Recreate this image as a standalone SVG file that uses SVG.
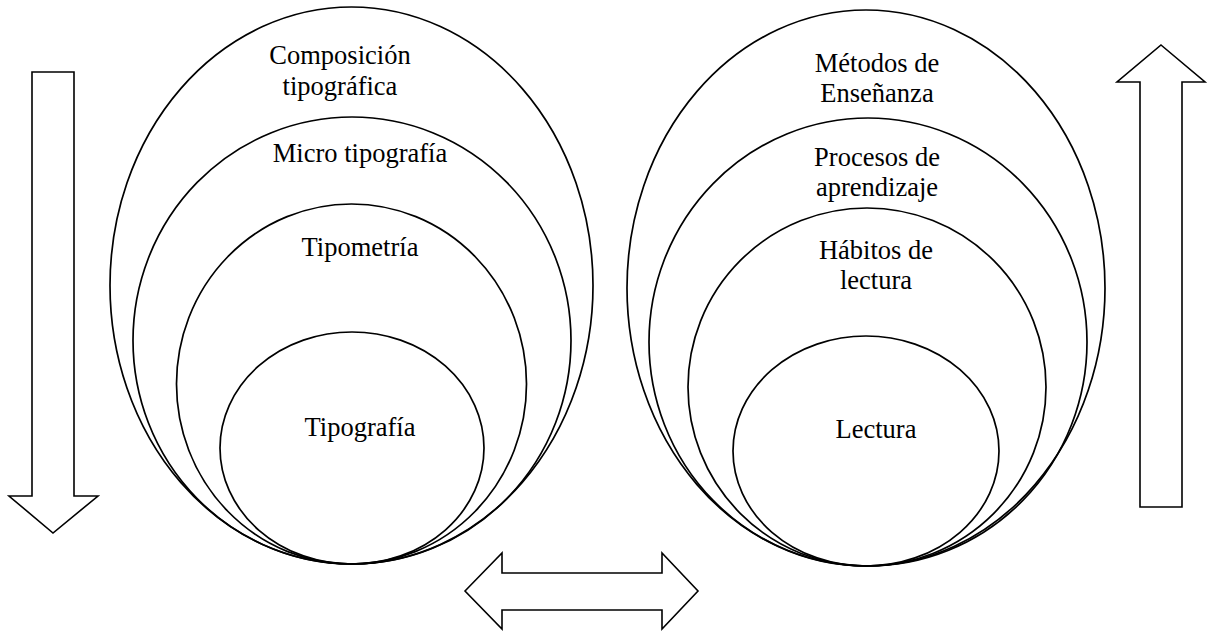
<svg xmlns="http://www.w3.org/2000/svg" width="1210" height="633" viewBox="0 0 1210 633">
<style>
.e{fill:none;stroke:#000;stroke-width:1.7}
.a{fill:#fff;stroke:#000;stroke-width:1.6;stroke-linejoin:miter}
.t{font-family:"Liberation Serif","Times New Roman",serif;font-size:26.5px;fill:#000;text-anchor:middle}
</style>
<rect width="1210" height="633" fill="#fff"/>
<g id="left-outer"><ellipse class="e" cx="351.5" cy="285.5" rx="241.5" ry="278.5"/><text class="t" x="340" y="64">Composición</text><text class="t" x="340" y="94.5">tipográfica</text></g>
<g id="left-second"><ellipse class="e" cx="352" cy="340.5" rx="219" ry="223.5"/><text class="t" x="360" y="162">Micro tipografía</text></g>
<g id="left-third"><ellipse class="e" cx="351.5" cy="384" rx="175" ry="180"/><text class="t" x="360" y="256">Tipometría</text></g>
<g id="left-inner"><ellipse class="e" cx="352" cy="448" rx="132" ry="116"/><text class="t" x="360" y="436">Tipografía</text></g>
<g id="right-outer"><ellipse class="e" cx="866" cy="288" rx="239" ry="278"/><text class="t" x="877" y="72">Métodos de</text><text class="t" x="877" y="102">Enseñanza</text></g>
<g id="right-second"><ellipse class="e" cx="868" cy="342" rx="219" ry="224"/><text class="t" x="877" y="166">Procesos de</text><text class="t" x="877" y="196">aprendizaje</text></g>
<g id="right-third"><ellipse class="e" cx="867" cy="387" rx="179" ry="179"/><text class="t" x="876" y="259">Hábitos de</text><text class="t" x="876" y="289">lectura</text></g>
<g id="right-inner"><ellipse class="e" cx="866" cy="451" rx="133" ry="115"/><text class="t" x="876" y="438">Lectura</text></g>
<g id="connectors">
<polygon id="arrow-down" class="a" points="32,72 74,72 74,496 98,496 53,533 9,496 32,496"/>
<polygon id="arrow-up" class="a" points="1161,45 1205,82 1182,82 1182,507 1140,507 1140,82 1117,82"/>
<polygon id="arrow-both" class="a" points="465,591 502,553 502,573 662,573 662,553 698,591 662,629 662,610 502,610 502,629"/>
</g>
</svg>
